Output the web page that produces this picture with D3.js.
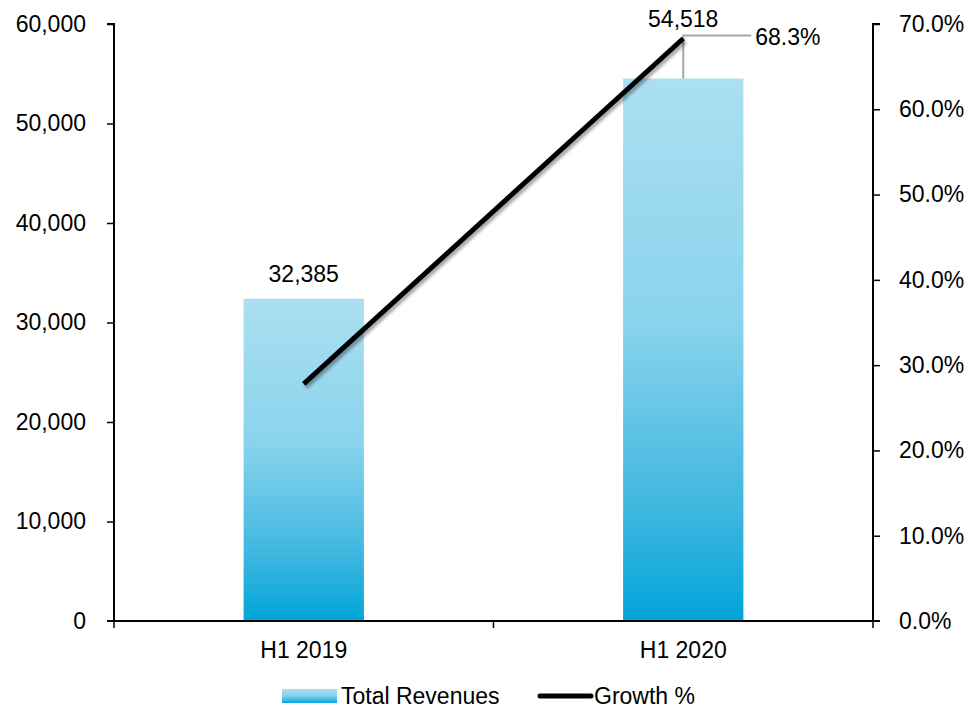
<!DOCTYPE html>
<html>
<head>
<meta charset="utf-8">
<script src="https://cdn.jsdelivr.net/npm/d3@7"></script>
<style>
  body { margin: 0; background: #fff; }
  text { font-family: "Liberation Sans", Arial, sans-serif; fill: #000; }
</style>
</head>
<body>
<div id="chart"></div>
<script>
const categories = ["H1 2019", "H1 2020"];
const revenues = [32385, 54518];
const growth = [27.8, 68.3];
const leftTicks = [0, 10000, 20000, 30000, 40000, 50000, 60000];
const rightTicks = [0, 10, 20, 30, 40, 50, 60, 70];
const seriesNames = ["Total Revenues", "Growth %"];

const W = 970, H = 712;
const margin = { top: 24, right: 97, bottom: 91, left: 114 };
const width = W - margin.left - margin.right;
const height = H - margin.top - margin.bottom;
const fontSize = 23;

const svg = d3.select("#chart").append("svg")
  .attr("width", W)
  .attr("height", H);

const defs = svg.append("defs");
const grad = defs.append("linearGradient")
  .attr("id", "barGrad")
  .attr("x1", 0).attr("y1", 0).attr("x2", 0).attr("y2", 1);
grad.append("stop").attr("offset", "0%").attr("stop-color", "#abdff1");
grad.append("stop").attr("offset", "45%").attr("stop-color", "#8ad3ec");
grad.append("stop").attr("offset", "80%").attr("stop-color", "#3db6e0");
grad.append("stop").attr("offset", "100%").attr("stop-color", "#00a5d9");

const shadow = defs.append("filter")
  .attr("id", "shadow")
  .attr("x", "-10%").attr("y", "-10%")
  .attr("width", "130%").attr("height", "130%");
shadow.append("feDropShadow")
  .attr("dx", 2).attr("dy", 3)
  .attr("stdDeviation", 1.8)
  .attr("flood-color", "#000")
  .attr("flood-opacity", 0.35);

const g = svg.append("g")
  .attr("transform", `translate(${margin.left},${margin.top})`);

const x = d3.scaleBand()
  .domain(categories)
  .range([0, width])
  .paddingInner(0.683)
  .paddingOuter(0.3415);

const y = d3.scaleLinear().domain([0, 60000]).range([height, 0]);
const y2 = d3.scaleLinear().domain([0, 70]).range([height, 0]);

// bars
g.selectAll(".bar")
  .data(revenues)
  .enter()
  .append("rect")
  .attr("class", "bar")
  .attr("x", (d, i) => x(categories[i]))
  .attr("y", d => y(d))
  .attr("width", x.bandwidth())
  .attr("height", d => height - y(d))
  .attr("fill", "url(#barGrad)");

// axes
const axisLeft = g.append("g")
  .call(d3.axisLeft(y).tickValues(leftTicks).tickSize(7).tickPadding(21)
    .tickFormat(d => d3.format(",")(d)));
const axisRight = g.append("g")
  .attr("transform", `translate(${width},0)`)
  .call(d3.axisRight(y2).tickValues(rightTicks).tickSize(7).tickPadding(19)
    .tickFormat(d => d3.format(".1f")(d) + "%"));

const bandStep = x.step();
const xEdges = [0, bandStep * 1, width];
const axisBottom = g.append("g")
  .attr("transform", `translate(0,${height})`);
axisBottom.append("line")
  .attr("x1", -7).attr("x2", width + 7)
  .attr("stroke", "#000").attr("stroke-width", 2);
axisBottom.selectAll(".tk")
  .data(xEdges)
  .enter()
  .append("line")
  .attr("x1", d => d).attr("x2", d => d)
  .attr("y1", 0).attr("y2", 7)
  .attr("stroke", "#000").attr("stroke-width", 1.5);
axisBottom.selectAll(".lbl")
  .data(categories)
  .enter()
  .append("text")
  .attr("x", d => x(d) + x.bandwidth() / 2)
  .attr("y", 37)
  .attr("text-anchor", "middle")
  .style("font-size", fontSize + "px")
  .text(d => d);

[axisLeft, axisRight].forEach(a => {
  a.select(".domain").attr("stroke", "#000").attr("stroke-width", 2)
    .attr("d", a === axisLeft ? `M-7,0H0V${height}` : `M7,0H0V${height}`);
  a.selectAll(".tick line").attr("stroke", "#000").attr("stroke-width", 1.5);
  a.selectAll(".tick text")
    .style("font-size", fontSize + "px")
    .style("font-family", "'Liberation Sans', Arial, sans-serif")
    .attr("fill", "#000");
});
axisLeft.selectAll(".tick").filter(d => d === 0).select("line").remove();
axisRight.selectAll(".tick").filter(d => d === 0).select("line").remove();

// leader for growth label
const lastCx = x(categories[1]) + x.bandwidth() / 2;
const leaderY = y2(growth[1]) - 3;

// revenue labels (second one sits above the leader)
g.selectAll(".vlabel")
  .data(revenues)
  .enter()
  .append("text")
  .attr("x", (d, i) => x(categories[i]) + x.bandwidth() / 2)
  .attr("y", (d, i) => i === 1 ? leaderY - 9 : y(d) - 17)
  .attr("text-anchor", "middle")
  .style("font-size", fontSize + "px")
  .text(d => d3.format(",")(d));

g.append("path")
  .attr("d", `M${lastCx},${y(revenues[1])}V${leaderY}H${lastCx + 68}`)
  .attr("fill", "none")
  .attr("stroke", "#a6a6a6")
  .attr("stroke-width", 2);

// growth line
const line = d3.line()
  .x((d, i) => x(categories[i]) + x.bandwidth() / 2)
  .y(d => y2(d));
g.append("path")
  .datum(growth)
  .attr("d", line)
  .attr("fill", "none")
  .attr("stroke", "#000")
  .attr("stroke-width", 5)
  .attr("filter", "url(#shadow)");

g.append("text")
  .attr("x", lastCx + 72)
  .attr("y", leaderY + 10)
  .style("font-size", fontSize + "px")
  .text(d3.format(".1f")(growth[1]) + "%");

// legend
const legend = svg.append("g").attr("transform", "translate(282,696)");
legend.append("rect")
  .attr("x", 0).attr("y", -7)
  .attr("width", 55).attr("height", 14)
  .attr("fill", "url(#barGrad)");
legend.append("text")
  .attr("x", 59).attr("y", 8)
  .style("font-size", fontSize + "px")
  .text(seriesNames[0]);
legend.append("line")
  .attr("x1", 258).attr("x2", 309)
  .attr("y1", 0).attr("y2", 0)
  .attr("stroke", "#000")
  .attr("stroke-width", 5)
  .attr("stroke-linecap", "round");
legend.append("text")
  .attr("x", 312).attr("y", 8)
  .style("font-size", fontSize + "px")
  .text(seriesNames[1]);
</script>
</body>
</html>
